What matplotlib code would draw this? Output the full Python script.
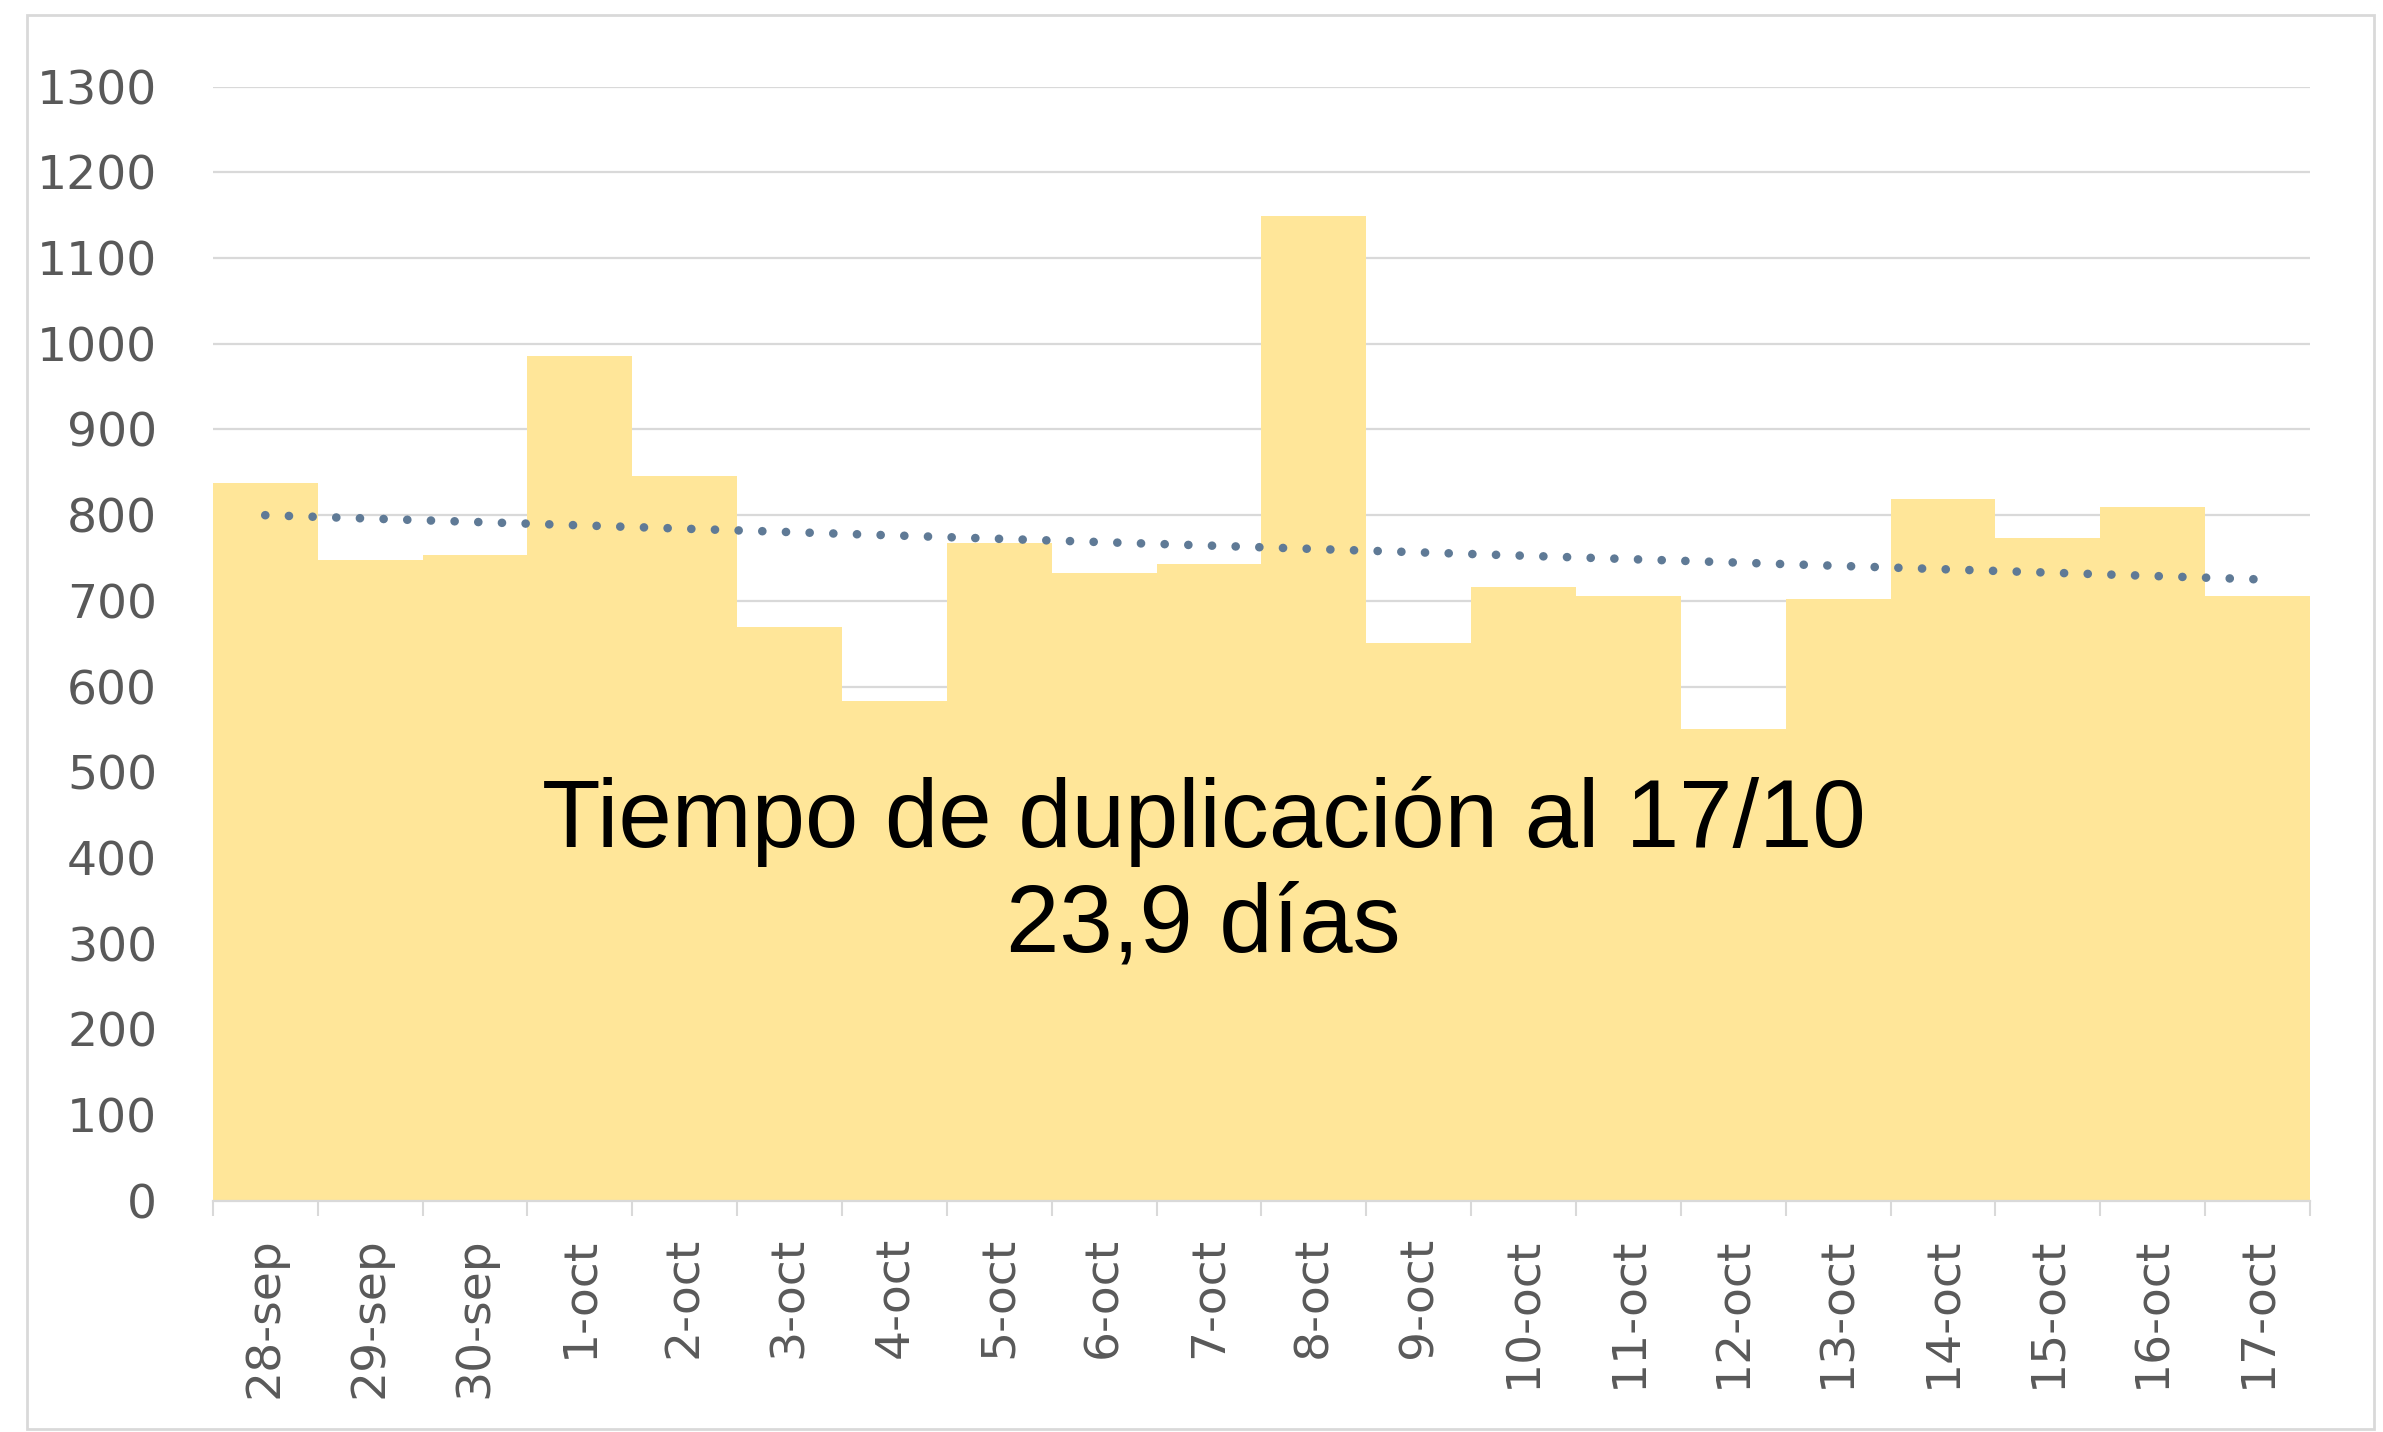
import numpy as np
import matplotlib
matplotlib.use("Agg")
import matplotlib.pyplot as plt
from matplotlib.patches import Rectangle

# daily values
dates = ["28-sep", "29-sep", "30-sep", "1-oct", "2-oct", "3-oct", "4-oct", "5-oct",
         "6-oct", "7-oct", "8-oct", "9-oct", "10-oct", "11-oct", "12-oct", "13-oct",
         "14-oct", "15-oct", "16-oct", "17-oct"]
values = [838, 748, 754, 986, 846, 670, 583, 768, 732, 743,
          1149, 651, 716, 706, 550, 702, 819, 773, 810, 706]
yticks = list(range(0, 1301, 100))
note = "Tiempo de duplicación al 17/10\n23,9 días"

BAR = "#FFE699"
GRID = "#D9D9D9"
LABEL = "#595959"

fig = plt.figure(figsize=(23.83, 14.32), dpi=100)
ax = fig.add_axes([0.0893, 0.1615, 0.8801, 0.778])

x = np.arange(len(values))
ax.bar(x, values, width=1.0, color=BAR, zorder=2)

# linear trendline (Excel-style)
slope, icpt = np.polyfit(x, values, 1)
ax.plot(x, slope * x + icpt, color="#5F7A96", lw=6.2,
        linestyle=(0, (0.01, 2.74)), dash_capstyle="round", zorder=3)

ax.set_xlim(-0.5, len(values) - 0.5)
ax.set_ylim(0, 1300)
ax.set_yticks(yticks)
ax.set_yticklabels([str(v) for v in yticks])
ax.yaxis.grid(True, color=GRID, lw=1.6, zorder=0)
ax.set_axisbelow(True)

ax.set_xticks(x)
ax.set_xticklabels(dates, rotation=90)
ax.set_xticks(np.arange(len(values) + 1) - 0.5, minor=True)
ax.tick_params(axis="x", which="major", length=0, pad=26, labelsize=34, labelcolor=LABEL)
ax.tick_params(axis="x", which="minor", length=11, width=1.5, color=GRID)
ax.tick_params(axis="y", length=0, pad=40, labelsize=34, labelcolor=LABEL)

for s in ["top", "right", "left"]:
    ax.spines[s].set_visible(False)
ax.spines["bottom"].set_color(GRID)
ax.spines["bottom"].set_linewidth(1.6)

fig.text(0.505, 0.390, note, ha="center", va="center", fontsize=69,
         family="Liberation Sans", color="black", linespacing=1.2)

# chart area border
fig.patches.append(Rectangle((0.0113, 0.002), 0.985, 0.9875, transform=fig.transFigure,
                             fill=False, edgecolor=GRID, lw=2))

fig.savefig("out.png", dpi=100, facecolor="white")
